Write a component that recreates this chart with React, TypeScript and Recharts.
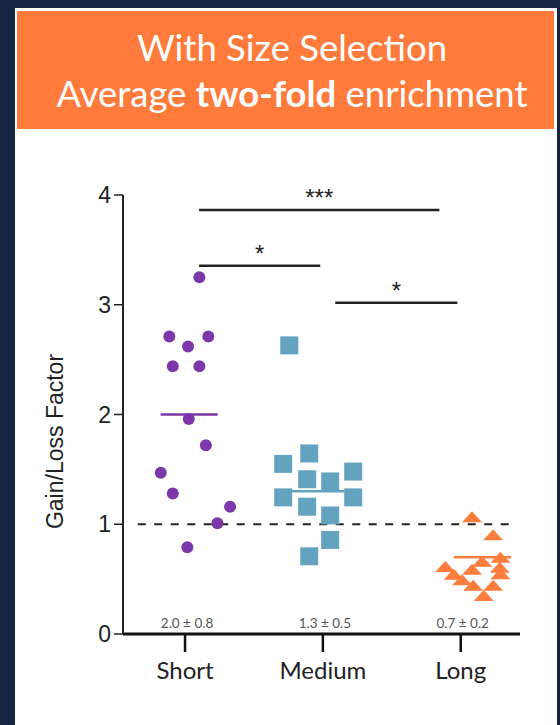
import React from 'react';
import { ScatterChart, Scatter, XAxis, YAxis, ReferenceLine } from 'recharts';

const categories = ['Short', 'Medium', 'Long'];
const yTicks = [0, 1, 2, 3, 4];

// gain/loss factor per library, x is the jittered column position (1 = Short, 2 = Medium, 3 = Long)
const shortX = [1.104, 0.886, 1.169, 1.022, 0.911, 1.104, 1.027, 1.151, 0.824, 0.911, 1.327, 1.235, 1.017];
const shortY = [3.25, 2.71, 2.71, 2.62, 2.44, 2.44, 1.96, 1.72, 1.47, 1.28, 1.16, 1.01, 0.79];

const mediumX = [1.756, 1.901, 1.712, 1.886, 2.053, 2.22, 1.712, 2.22, 1.886, 2.053, 2.053, 1.901];
const mediumY = [2.63, 1.645, 1.55, 1.41, 1.39, 1.48, 1.245, 1.245, 1.16, 1.08, 0.857, 0.708];

const longX = [3.082, 3.235, 3.288, 3.155, 2.888, 3.283, 3.082, 2.949, 3.288, 3.01, 3.09, 3.235, 3.167];
const longY = [1.069, 0.905, 0.699, 0.664, 0.614, 0.608, 0.59, 0.544, 0.55, 0.494, 0.445, 0.445, 0.351];

// mean ± SD per group, and the column centre each mean bar sits on
const means = [2.0, 1.3, 0.7];
const sds = [0.8, 0.5, 0.2];
const meanCenters = [1.03, 1.948, 3.158];

// significance brackets
const comparisons = [
  { from: 1.102, to: 2.845, level: 3.863, mark: '***' },
  { from: 1.102, to: 1.981, level: 3.356, mark: '*' },
  { from: 2.09, to: 2.976, level: 3.019, mark: '*' },
];

const baseline = 1;

const PURPLE = '#7c38a8';
const BLUE = '#64a3bf';
const ORANGE = '#fd7d3c';
const INK = '#222';

const toPoints = (xs: number[], ys: number[]) => xs.map((x, i) => ({ x, y: ys[i] }));
const shortData = toPoints(shortX, shortY);
const mediumData = toPoints(mediumX, mediumY);
const longData = toPoints(longX, longY);

const statData = categories.map((c, i) => ({
  x: i + 1,
  y: 0,
  text: `${means[i].toFixed(1)} \u00b1 ${sds[i].toFixed(1)}`,
}));

const Dot = (props: any) => <circle cx={props.cx} cy={props.cy} r={6} fill={PURPLE} />;
const Square = (props: any) => (
  <rect x={props.cx - 9} y={props.cy - 9} width={18} height={18} fill={BLUE} />
);
const Triangle = (props: any) => {
  const { cx, cy } = props;
  return <path d={`M${cx},${cy - 5.5} L${cx + 10},${cy + 5.5} L${cx - 10},${cy + 5.5} Z`} fill={ORANGE} />;
};
const StatText = (props: any) => (
  <text x={props.cx + 2} y={props.cy - 6} textAnchor="middle" fontSize={13.5} fill="#555" fontFamily="Lato">
    {props.payload.text}
  </text>
);

const Stars = (props: any) => {
  const { viewBox, mark } = props;
  return (
    <text x={viewBox.x + viewBox.width / 2} y={viewBox.y - 4} textAnchor="middle" fontSize={24} fill={INK}
      fontFamily="Liberation Sans">
      {mark}
    </text>
  );
};

const YTitle = (props: any) => {
  const { viewBox } = props;
  const x = viewBox.x + 55;
  const y = viewBox.y + viewBox.height / 2 + 27;
  return (
    <text x={x} y={y} transform={`rotate(-90, ${x}, ${y})`} textAnchor="middle" dominantBaseline="central"
      fontSize={23} fill={INK} fontFamily="Liberation Sans">
      Gain/Loss Factor
    </text>
  );
};

export default function App() {
  return (
    <div style={{ position: 'absolute', left: 0, top: 0, width: 560, height: 725, background: '#172440', overflow: 'hidden' }}>
      <div style={{ position: 'absolute', left: 15, top: 8, width: 542, height: 717, background: '#fff' }} />
      <div style={{ position: 'absolute', left: 17, top: 11, width: 537, height: 118, background: '#fe7b3b' }} />
      <svg width={560} height={140} style={{ position: 'absolute', left: 0, top: 0 }}>
        <text x={292} y={61} textAnchor="middle" fill="#fff" fontSize={36.5} fontFamily="Lato">
          With Size Selection
        </text>
        <text x={292} y={107} textAnchor="middle" fill="#fff" fontSize={36.5} fontFamily="Lato">
          <tspan>Average </tspan>
          <tspan fontWeight="bold">two-fold</tspan>
          <tspan> enrichment</tspan>
        </text>
      </svg>
      <div style={{ position: 'absolute', left: 0, top: 0 }}>
        <ScatterChart width={560} height={725} margin={{ top: 195, right: 40, bottom: 0, left: 0 }}>
          <XAxis
            type="number"
            dataKey="x"
            domain={[0.55, 3.43]}
            ticks={[1, 2, 3]}
            tickFormatter={(v: number) => categories[v - 1]}
            height={91}
            tickSize={18}
            tickMargin={10}
            axisLine={{ stroke: '#111', strokeWidth: 3 }}
            tickLine={{ stroke: '#111', strokeWidth: 2.5 }}
            tick={{ fontSize: 24, fill: INK, fontFamily: 'Lato' }}
            allowDataOverflow
          />
          <YAxis
            type="number"
            dataKey="y"
            domain={[0, 4]}
            ticks={yTicks}
            width={123}
            tickSize={9}
            tickMargin={3}
            axisLine={{ stroke: INK, strokeWidth: 2 }}
            tickLine={{ stroke: INK, strokeWidth: 1.5 }}
            tick={{ fontSize: 23, fill: INK, fontFamily: 'Liberation Sans' }}
            label={<YTitle />}
          />
          <ReferenceLine
            segment={[{ x: 0.657, y: baseline }, { x: 3.355, y: baseline }]}
            stroke={INK}
            strokeWidth={2}
            strokeDasharray="8 8.5"
          />
          {comparisons.map((c, i) => (
            <ReferenceLine
              key={`cmp-${i}`}
              segment={[{ x: c.from, y: c.level }, { x: c.to, y: c.level }]}
              stroke={INK}
              strokeWidth={2.5}
              label={<Stars mark={c.mark} />}
            />
          ))}
          {means.map((m, i) => (
            <ReferenceLine
              key={`mean-${i}`}
              segment={[{ x: meanCenters[i] - 0.207, y: m }, { x: meanCenters[i] + 0.207, y: m }]}
              stroke={[PURPLE, BLUE, ORANGE][i]}
              strokeWidth={2.5}
            />
          ))}
          <Scatter data={shortData} shape={<Dot />} isAnimationActive={false} />
          <Scatter data={mediumData} shape={<Square />} isAnimationActive={false} />
          <Scatter data={longData} shape={<Triangle />} isAnimationActive={false} />
          <Scatter data={statData} shape={<StatText />} isAnimationActive={false} />
        </ScatterChart>
      </div>
    </div>
  );
}
